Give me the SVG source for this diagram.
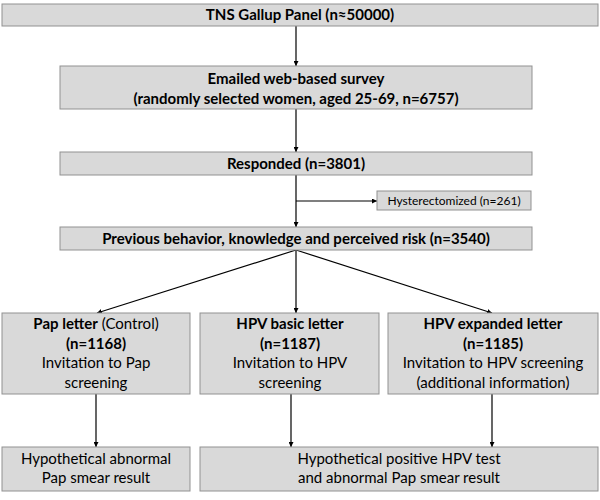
<svg xmlns="http://www.w3.org/2000/svg" width="600" height="500" viewBox="0 0 600 500">
<style>
.box{fill:#d9d9d9;stroke:#919191;stroke-width:1}
.t{font-family:Lato,"Open Sans",sans-serif;font-size:15px;fill:#000;text-anchor:middle}
.b{font-weight:bold}
.s{font-size:12px}
.c{stroke:#000;stroke-width:1.2;fill:none;marker-end:url(#ah)}
</style>
<defs>
<marker id="ah" viewBox="0 0 10 10" refX="10" refY="5" markerWidth="5" markerHeight="5" orient="auto" markerUnits="userSpaceOnUse">
<path d="M0,0 L10,5 L0,10 z" fill="#000"/>
</marker>
</defs>
<rect width="600" height="500" fill="#fff"/>
<g id="connectors">
<line class="c" x1="296" y1="26" x2="296" y2="66"/>
<line class="c" x1="296" y1="109" x2="296" y2="152"/>
<line class="c" x1="296" y1="175" x2="296" y2="227"/>
<line class="c" x1="296" y1="201" x2="377" y2="201"/>
<line class="c" x1="296" y1="250" x2="97" y2="313"/>
<line class="c" x1="296" y1="250" x2="296" y2="313"/>
<line class="c" x1="296" y1="250" x2="492" y2="313"/>
<line class="c" x1="96" y1="394" x2="96" y2="447"/>
<line class="c" x1="291" y1="394" x2="291" y2="447"/>
<line class="c" x1="492" y1="394" x2="492" y2="447"/>
</g>
<g id="n1"><rect class="box" x="2" y="4" width="596" height="22"/><text class="t b" x="300" y="20">TNS Gallup Panel (n≈50000)</text></g>
<g id="n2"><rect class="box" x="60" y="66" width="472" height="43"/><text class="t b" x="296" y="84">Emailed web-based survey</text><text class="t b" x="296" y="104">(randomly selected women, aged 25-69, n=6757)</text></g>
<g id="n3"><rect class="box" x="60" y="152" width="472" height="23"/><text class="t b" x="296" y="169">Responded (n=3801)</text></g>
<g id="n4"><rect class="box" x="377" y="191" width="154" height="19"/><text class="t s" x="454" y="205">Hysterectomized (n=261)</text></g>
<g id="n5"><rect class="box" x="60" y="227" width="472" height="23"/><text class="t b" x="296" y="244">Previous behavior, knowledge and perceived risk (n=3540)</text></g>
<g id="n6"><rect class="box" x="2" y="313" width="188" height="81"/><text class="t" x="96" y="329"><tspan class="b">Pap letter</tspan> (Control)</text><text class="t b" x="96" y="349">(n=1168)</text><text class="t" x="96" y="368">Invitation to Pap</text><text class="t" x="96" y="388">screening</text></g>
<g id="n7"><rect class="box" x="200" y="313" width="179" height="81"/><text class="t b" x="290" y="329">HPV basic letter</text><text class="t b" x="290" y="349">(n=1187)</text><text class="t" x="290" y="368">Invitation to HPV</text><text class="t" x="290" y="388">screening</text></g>
<g id="n8"><rect class="box" x="388" y="313" width="210" height="81"/><text class="t b" x="493" y="329">HPV expanded letter</text><text class="t b" x="493" y="349">(n=1185)</text><text class="t" x="493" y="368">Invitation to HPV screening</text><text class="t" x="493" y="388">(additional information)</text></g>
<g id="n9"><rect class="box" x="2" y="447" width="188" height="44"/><text class="t" x="96" y="464">Hypothetical abnormal</text><text class="t" x="96" y="483">Pap smear result</text></g>
<g id="n10"><rect class="box" x="200" y="447" width="398" height="44"/><text class="t" x="399" y="464">Hypothetical positive HPV test</text><text class="t" x="399" y="483">and abnormal Pap smear result</text></g>
</svg>
